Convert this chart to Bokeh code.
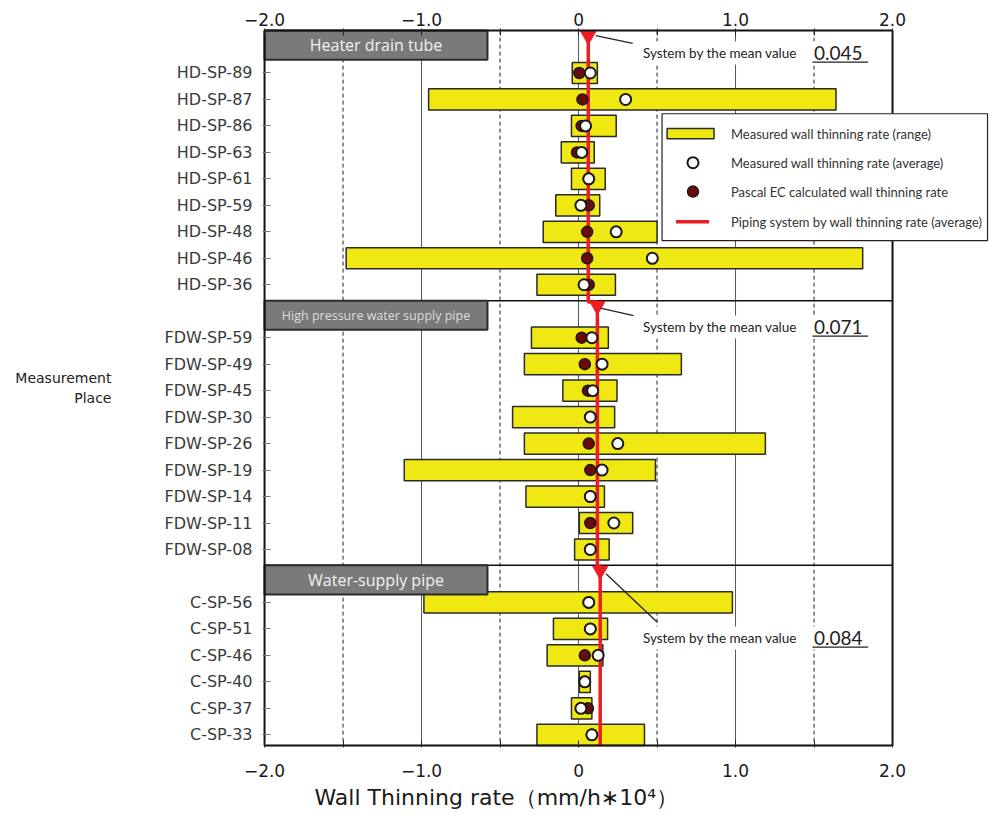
from bokeh.plotting import figure
from bokeh.models import Range1d, FixedTicker, LinearAxis, Label, Title
from bokeh.embed import file_html
from bokeh.resources import INLINE

# ---------------- data ----------------
hd_names = ["HD-SP-89", "HD-SP-87", "HD-SP-86", "HD-SP-63", "HD-SP-61",
            "HD-SP-59", "HD-SP-48", "HD-SP-46", "HD-SP-36"]
hd_min = [-0.04, -0.955, -0.045, -0.11, -0.045, -0.145, -0.225, -1.48, -0.265]
hd_max = [0.12, 1.64, 0.24, 0.10, 0.17, 0.135, 0.50, 1.81, 0.235]
hd_avg = [0.075, 0.30, 0.045, 0.02, 0.065, 0.015, 0.24, 0.47, 0.035]
hd_calc = [0.005, 0.025, 0.02, -0.01, 0.065, 0.065, 0.055, 0.055, 0.065]

fdw_names = ["FDW-SP-59", "FDW-SP-49", "FDW-SP-45", "FDW-SP-30", "FDW-SP-26",
             "FDW-SP-19", "FDW-SP-14", "FDW-SP-11", "FDW-SP-08"]
fdw_min = [-0.30, -0.345, -0.10, -0.42, -0.345, -1.11, -0.335, 0.005, -0.025]
fdw_max = [0.19, 0.655, 0.245, 0.23, 1.19, 0.49, 0.165, 0.345, 0.195]
fdw_avg = [0.085, 0.15, 0.09, 0.075, 0.25, 0.15, 0.075, 0.225, 0.075]
fdw_calc = [0.02, 0.04, 0.06, 0.075, 0.065, 0.075, 0.075, 0.075, 0.075]

c_names = ["C-SP-56", "C-SP-51", "C-SP-46", "C-SP-40", "C-SP-37", "C-SP-33"]
c_min = [-0.985, -0.16, -0.20, 0.005, -0.045, -0.265]
c_max = [0.98, 0.185, 0.155, 0.075, 0.085, 0.42]
c_avg = [0.065, 0.075, 0.125, 0.04, 0.015, 0.085]
c_calc = [0.065, 0.075, 0.04, 0.04, 0.06, 0.085]

section_titles = ["Heater drain tube", "High pressure water supply pipe", "Water-supply pipe"]
section_title_sizes = ["16px", "12.5px", "16px"]
system_mean_text = ["0.045", "0.071", "0.084"]
system_mean_line = [0.062, 0.12, 0.138]   # where the red line is drawn in the picture

x_ticks = [-2, -1, 0, 1, 2]
x_tick_labels = ["\u22122.0", "\u22121.0", "0", "1.0", "2.0"]
x_minor = [-1.5, -0.5, 0.5, 1.5]

legend_texts = ["Measured wall thinning rate (range)",
                "Measured wall thinning rate (average)",
                "Pascal  EC calculated wall thinning rate",
                "Piping system by  wall thinning rate  (average)"]

# ---------------- layout of rows ----------------
groups = [(hd_names, hd_min, hd_max, hd_avg, hd_calc),
          (fdw_names, fdw_min, fdw_max, fdw_avg, fdw_calc),
          (c_names, c_min, c_max, c_avg, c_calc)]
row_y, names, mins, maxs, avgs, calcs = [], [], [], [], [], []
sec_first, sec_last = [], []
idx = 0
for k, g in enumerate(groups):
    if k > 0:
        idx += 1
    sec_first.append(idx)
    for i in range(len(g[0])):
        row_y.append(idx)
        names.append(g[0][i]); mins.append(g[1][i]); maxs.append(g[2][i])
        avgs.append(g[3][i]); calcs.append(g[4][i])
        idx += 1
    sec_last.append(idx - 1)

Y_TOP = -1.6
Y_BOT = sec_last[-1] + 0.4
sec_top = [Y_TOP] + [sec_last[k] + 0.6 for k in range(len(sec_last) - 1)]
sec_bot = sec_top[1:] + [Y_BOT]

p = figure(frame_width=728, frame_height=719,
           min_border_left=262, min_border_right=7, min_border_top=28, min_border_bottom=73,
           x_range=Range1d(-2.013, 2.624), y_range=Range1d(Y_BOT + 0.08, Y_TOP - 0.08),
           x_axis_location=None, y_axis_location=None,
           output_backend="svg", toolbar_location=None)
p.grid.visible = False
p.outline_line_color = None
p.background_fill_color = "white"
p.border_fill_color = "white"

# ---------------- axes ----------------
xover = {t: l for t, l in zip(x_ticks, x_tick_labels)}
for loc, standoff in (("above", 3), ("below", 16)):
    ax = LinearAxis(ticker=FixedTicker(ticks=x_ticks, minor_ticks=x_minor),
                    major_label_overrides=xover)
    ax.axis_line_color = None
    ax.major_tick_in = 7
    ax.major_tick_out = 0
    ax.minor_tick_in = 7
    ax.minor_tick_out = 0
    ax.major_tick_line_color = "#222"
    ax.minor_tick_line_color = "#222"
    ax.major_label_text_font = "DejaVu Sans"
    ax.major_label_text_font_size = "17px"
    ax.major_label_text_color = "#1a1a1a"
    ax.major_label_standoff = standoff
    p.add_layout(ax, loc)

# x axis title, placed like the reference (left part of the frame)
p.add_layout(Title(text="Wall Thinning rate\uff08mm/h\u221710\u2074\uff09", align="left",
                   offset=52, standoff=6, text_font="DejaVu Sans", text_font_size="22px",
                   text_font_style="normal", text_color="#1a1a1a"), "below")

yax = LinearAxis(ticker=FixedTicker(ticks=row_y),
                 major_label_overrides={y: n for y, n in zip(row_y, names)})
yax.axis_line_color = None
yax.major_tick_in = 8
yax.major_tick_out = 0
yax.major_tick_line_color = "#777"
yax.minor_tick_line_color = None
yax.major_label_text_font = "DejaVu Sans"
yax.major_label_text_font_size = "16px"
yax.major_label_text_color = "#3a3a3a"
yax.major_label_standoff = 10
yax.axis_label = "Measurement\nPlace"
yax.axis_label_orientation = "horizontal"
yax.axis_label_text_align = "right"
yax.axis_label_text_font = "DejaVu Sans"
yax.axis_label_text_font_size = "14px"
yax.axis_label_text_font_style = "normal"
yax.axis_label_text_color = "#222"
yax.axis_label_standoff = 50
p.add_layout(yax, "left")

# ---------------- grid lines ----------------
grid_solid = [t for t in x_ticks if -2 < t < 2]
p.segment(x0=grid_solid, x1=grid_solid, y0=Y_TOP, y1=Y_BOT, line_color="#555", line_width=1)
p.segment(x0=x_minor, x1=x_minor, y0=Y_TOP, y1=Y_BOT, line_color="#222", line_width=1,
          line_dash="4 3")

# annotation geometry per section (layout)
ann_text_off = [0.83, 0.98, 2.73]
lead_x0 = [0.11, 0.14, 0.175]
lead_y0_off = [0.19, 0.28, 0.32]
lead_x1 = [0.345, 0.35, 0.50]
lead_y1_off = [0.48, 0.57, 2.14]
ann_y = [t + o for t, o in zip(sec_top, ann_text_off)]

# white boxes behind the "System by the mean value" notes
p.quad(left=0.36, right=1.95, top=[y - 0.42 for y in ann_y], bottom=[y + 0.45 for y in ann_y],
       fill_color="white", line_color=None)

# section separators
p.segment(x0=-2, x1=2, y0=sec_top[1:], y1=sec_top[1:], line_color="#111", line_width=1.5)

# ---------------- bars & points ----------------
p.hbar(y=row_y, left=mins, right=maxs, height=0.8, fill_color="#F0E812",
       line_color="#2a2a2a", line_width=1.5)

# red system mean line
rx, ry = [], []
for k in range(len(system_mean_line)):
    rx += [system_mean_line[k], system_mean_line[k]]
    ry += [sec_top[k] + (0.05 if k > 0 else 0), sec_bot[k] + (0.05 if k < len(sec_bot) - 1 else 0)]
p.line(rx, ry, line_color="#EE1C24", line_width=3.5)
p.scatter(x=system_mean_line, y=[t + 0.2 for t in sec_top], marker="inverted_triangle",
          size=15, fill_color="#EE1C24", line_color="#EE1C24")

p.scatter(x=calcs, y=row_y, size=11, marker="circle", fill_color="#6B0B0B",
          line_color="#1a1a1a", line_width=1.5)
p.scatter(x=avgs, y=row_y, size=11, marker="circle", fill_color="white",
          line_color="#1a1a1a", line_width=2)

# ---------------- section headers ----------------
p.quad(left=-2, right=-0.58, top=sec_top, bottom=[t + 1.1 for t in sec_top],
       fill_color="#7a7a7a", line_color="#2b2b2b", line_width=2)
for k, title in enumerate(section_titles):
    p.add_layout(Label(x=-1.29, y=sec_top[k] + 0.55, text=title, text_align="center",
                       text_baseline="middle", text_font="Open Sans",
                       text_font_size=section_title_sizes[k],
                       text_color="#f2f2f2" if k != 1 else "#dcdcdc"))

# leader lines + notes
p.segment(x0=lead_x0, y0=[t + o for t, o in zip(sec_top, lead_y0_off)],
          x1=lead_x1, y1=[t + o for t, o in zip(sec_top, lead_y1_off)],
          line_color="#222", line_width=1.3)
p.segment(x0=1.49, x1=1.845, y0=[y + 0.36 for y in ann_y], y1=[y + 0.36 for y in ann_y],
          line_color="#222", line_width=1.2)
for k in range(len(ann_y)):
    p.add_layout(Label(x=0.41, y=ann_y[k], text="System by the mean value", text_baseline="middle",
                       text_font="Lato", text_font_size="13.5px", text_color="#222"))
    p.add_layout(Label(x=1.50, y=ann_y[k], text=system_mean_text[k], text_baseline="middle",
                       text_font="Lato", text_font_size="19px", text_color="#222"))

# plot border
p.quad(left=-2, right=2, top=Y_TOP, bottom=Y_BOT, fill_color=None, line_color="#111",
       line_width=2)

# ---------------- legend (drawn by hand) ----------------
leg_y = [2.29, 3.39, 4.48, 5.62]
p.quad(left=0.532, right=2.605, top=1.54, bottom=6.33, fill_color="white",
       line_color="#222", line_width=1.2)
p.quad(left=0.564, right=0.863, top=leg_y[0] - 0.19, bottom=leg_y[0] + 0.19,
       fill_color="#F0E812", line_color="#2a2a2a", line_width=1.5)
p.scatter(x=[0.729], y=[leg_y[1]], size=11, marker="circle", fill_color="white",
          line_color="#1a1a1a", line_width=2)
p.scatter(x=[0.729], y=[leg_y[2]], size=11, marker="circle", fill_color="#6B0B0B",
          line_color="#1a1a1a", line_width=1.5)
p.segment(x0=0.621, x1=0.831, y0=leg_y[3], y1=leg_y[3], line_color="#EE1C24", line_width=3.5)
for t, y in zip(legend_texts, leg_y):
    p.add_layout(Label(x=0.971, y=y, text=t, text_baseline="middle", text_font="Lato",
                       text_font_size="13px", text_color="#333"))

open("out.html", "w").write(file_html(p, INLINE))
